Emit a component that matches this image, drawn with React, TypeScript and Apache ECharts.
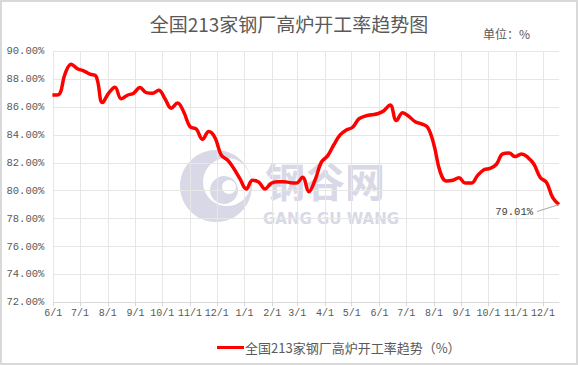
import React, { useEffect, useRef } from 'react';
import * as echarts from 'echarts';

// ---------- data ----------
const firstWeek = '2020-05-31'; // first weekly observation (weekly step)
const weeklyRate: number[] = [
  86.87, 86.9, 88.35, 89.07, 88.75, 88.6, 88.36, 88.2, 86.32, 87.0,
  87.42, 86.6, 86.85, 87.0, 87.4, 87.04, 87.0, 87.2, 86.6, 85.92,
  86.3, 85.65, 84.6, 84.42, 83.7, 84.24, 83.8, 82.55, 82.2, 81.6,
  80.85, 80.13, 80.75, 80.62, 80.13, 80.54, 80.65, 80.65, 80.58, 80.55,
  80.97, 79.93, 80.77, 82.05, 82.5, 83.3, 84.0, 84.36, 84.55, 85.15,
  85.35, 85.45, 85.52, 85.74, 86.15, 85.03, 85.6, 85.33, 84.95, 84.8,
  84.55, 83.3, 81.35, 80.7, 80.75, 80.94, 80.55, 80.55, 81.1, 81.5,
  81.6, 81.9, 82.65, 82.7, 82.45, 82.64, 82.4, 81.9, 80.95, 80.6,
  79.5, 79.01,
];
const axisStart = '2020-06-01';
const axisEnd = '2021-12-19';
const monthTicks: string[] = [
  '2020-06-01', '2020-07-01', '2020-08-01', '2020-09-01', '2020-10-01', '2020-11-01',
  '2020-12-01', '2021-01-01', '2021-02-01', '2021-03-01', '2021-04-01', '2021-05-01',
  '2021-06-01', '2021-07-01', '2021-08-01', '2021-09-01', '2021-10-01', '2021-11-01',
  '2021-12-01',
];
const yMin = 72;
const yMax = 90;
const yStep = 2;
const titleText = '全国213家钢厂高炉开工率趋势图';
const unitText = '单位：%';
const seriesName = '全国213家钢厂高炉开工率趋势（%）';
const wmCn = '钢谷网';
const wmEn = 'GANG GU WANG';

// ---------- helpers ----------
const DAY = 86400000;
const toTs = (s: string) => {
  const [y, m, d] = s.split('-').map(Number);
  return Date.UTC(y, m - 1, d);
};
const fmtMD = (v: number) => {
  const d = new Date(v);
  return `${d.getUTCMonth() + 1}/${d.getUTCDate()}`;
};

const MONO = '"Liberation Mono", "DejaVu Sans Mono", monospace';
const CJK = '"Noto Sans CJK SC", "Noto Sans", sans-serif';
const TXT = '#595959';
const GRID = '#e6e6e6';
const WM = '#d8d8e6';

export default function App() {
  const ref = useRef<HTMLDivElement>(null);

  useEffect(() => {
    if (!ref.current) return;
    const chart = echarts.init(ref.current, undefined, { renderer: 'svg' });

    const start = toTs(firstWeek);
    const points = weeklyRate.map((v, i) => [start + i * 7 * DAY, v]);
    const monthTs = monthTicks.map(toTs);

    const baseGraphic: any[] = [
      // watermark logo
      { id: 'wm1', type: 'circle', shape: { cx: 216, cy: 186, r: 36 }, style: { fill: WM }, silent: true, z: -10 },
      { id: 'wm2', type: 'circle', shape: { cx: 227, cy: 182, r: 24 }, style: { fill: '#ffffff' }, silent: true, z: -9 },
      { id: 'wm3', type: 'circle', shape: { cx: 224, cy: 190, r: 14 }, style: { fill: WM }, silent: true, z: -8 },
      { id: 'wm4', type: 'circle', shape: { cx: 229, cy: 187, r: 7 }, style: { fill: '#ffffff' }, silent: true, z: -7 },
      {
        id: 'wm5', type: 'text', x: 265, y: 180, silent: true, z: -10,
        style: { text: wmCn, font: `bold 40px ${CJK}`, fill: WM, verticalAlign: 'middle', align: 'left' },
      },
      {
        id: 'wm6', type: 'text', x: 331, y: 219, silent: true, z: -10,
        style: { text: wmEn, font: `bold 15px "DejaVu Sans", sans-serif`, fill: WM, verticalAlign: 'middle', align: 'center' },
      },
      // outer border
      {
        id: 'border', type: 'rect', shape: { x: 1, y: 1, width: 576, height: 363 },
        style: { fill: 'none', stroke: '#d9d9d9', lineWidth: 2 }, silent: true, z: 100,
      },
    ];

    chart.setOption({
      animation: false,
      backgroundColor: '#ffffff',
      title: [
        {
          text: titleText, left: 'center', top: 14, padding: 0,
          textStyle: { fontSize: 19, fontWeight: 'normal', color: TXT, fontFamily: CJK },
        },
        {
          text: unitText, left: 483, top: 27, padding: 0,
          textStyle: { fontSize: 12, fontWeight: 'normal', color: TXT, fontFamily: CJK },
        },
      ],
      legend: {
        left: 212, top: 336, icon: 'rect', itemWidth: 27, itemHeight: 3,
        data: [seriesName],
        textStyle: { fontSize: 13, color: TXT, fontFamily: CJK, padding: [0, 0, 0, -4] },
      },
      grid: { left: 53.3, right: 19, top: 51.3, bottom: 62.7, containLabel: false },
      xAxis: {
        type: 'value',
        min: toTs(axisStart),
        max: toTs(axisEnd),
        axisLine: { show: true, lineStyle: { color: '#d9d9d9' } },
        axisTick: { show: true, customValues: monthTs, length: 4, lineStyle: { color: '#d9d9d9' } },
        axisLabel: {
          customValues: monthTs, formatter: (v: number) => fmtMD(v),
          color: TXT, fontSize: 10, fontFamily: MONO, margin: 6,
        },
        splitLine: { show: true, lineStyle: { color: GRID } },
      },
      yAxis: {
        type: 'value', min: yMin, max: yMax, interval: yStep,
        axisLine: { show: false }, axisTick: { show: false },
        axisLabel: {
          formatter: (v: number) => v.toFixed(2) + '%',
          color: TXT, fontSize: 10.5, fontFamily: MONO, margin: 9,
        },
        splitLine: { show: true, lineStyle: { color: GRID } },
      },
      series: [
        {
          name: seriesName, type: 'line', data: points, smooth: 0.4,
          showSymbol: false, clip: true, z: 5,
          lineStyle: { color: '#ff0000', width: 3.5 },
          itemStyle: { color: '#ff0000' },
        },
      ],
      graphic: baseGraphic,
    });

    const last = points[points.length - 1];
    const [px, py] = chart.convertToPixel({ gridIndex: 0 }, last) as number[];
    chart.setOption({
      graphic: [
        ...baseGraphic,
        {
          id: 'lastLabel', type: 'text', x: px - 26, y: py + 7, z: 50,
          style: {
            text: (last[1] as number).toFixed(2) + '%', font: `10.5px ${MONO}`, fill: '#404040',
            align: 'right', verticalAlign: 'middle',
          },
        },
        {
          id: 'lastLine', type: 'line', z: 50,
          shape: { x1: px - 22, y1: py + 7, x2: px, y2: py },
          style: { stroke: '#a6a6a6', lineWidth: 1 },
        },
      ],
    });

    return () => chart.dispose();
  }, []);

  return (
    <div
      ref={ref}
      style={{ position: 'absolute', left: 0, top: 0, width: 578, height: 365 }}
    />
  );
}
